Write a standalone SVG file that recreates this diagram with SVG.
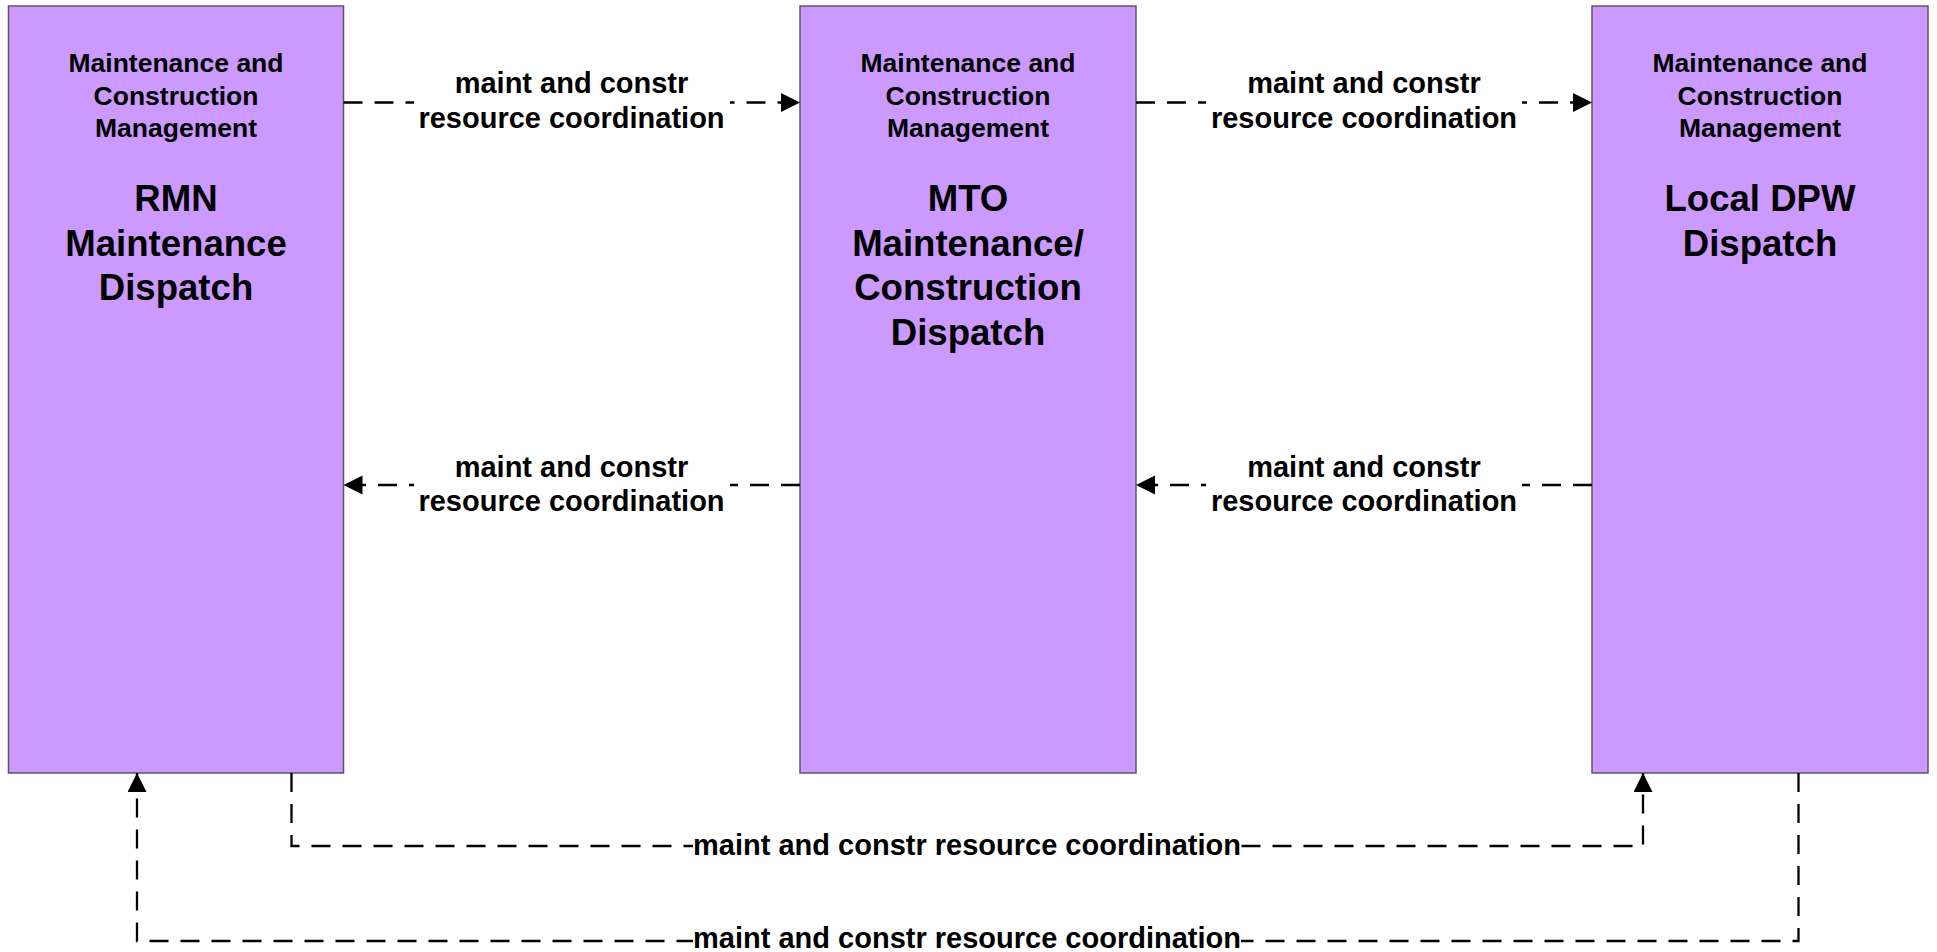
<svg xmlns="http://www.w3.org/2000/svg" width="1937" height="952" viewBox="0 0 1937 952">
<style>
.box{fill:#cc99ff;stroke:#5e5468;stroke-width:1.5}
.hdr{font-family:"Liberation Sans",Arial,sans-serif;font-weight:bold;font-size:26.5px;fill:#000;text-anchor:middle}
.ttl{font-family:"Liberation Sans",Arial,sans-serif;font-weight:bold;font-size:36.6px;fill:#000;text-anchor:middle}
.lbl{font-family:"Liberation Sans",Arial,sans-serif;font-weight:bold;font-size:29px;fill:#000;text-anchor:middle}
.conn{fill:none;stroke:#000;stroke-width:2.3;stroke-dasharray:19 12}
.bg{fill:#fff}
</style>
<defs>
<marker id="arr" markerUnits="userSpaceOnUse" markerWidth="20" markerHeight="20" refX="19" refY="9.5" orient="auto">
<path d="M0,0 L19,9.5 L0,19 Z" fill="#000"/>
</marker>
</defs>
<rect width="1937" height="952" fill="#fff"/>
<g id="node-rmn">
<rect class="box" x="8.5" y="6" width="335" height="767"/>
<text class="hdr" x="176" y="72"><tspan x="176">Maintenance and</tspan><tspan x="176" dy="32.5">Construction</tspan><tspan x="176" dy="32.5">Management</tspan></text>
<text class="ttl" x="176" y="211"><tspan x="176">RMN</tspan><tspan x="176" dy="44.5">Maintenance</tspan><tspan x="176" dy="44.5">Dispatch</tspan></text>
</g>
<g id="node-mto">
<rect class="box" x="800" y="6" width="336" height="767"/>
<text class="hdr" x="968" y="72"><tspan x="968">Maintenance and</tspan><tspan x="968" dy="32.5">Construction</tspan><tspan x="968" dy="32.5">Management</tspan></text>
<text class="ttl" x="968" y="211"><tspan x="968">MTO</tspan><tspan x="968" dy="44.5">Maintenance/</tspan><tspan x="968" dy="44.5">Construction</tspan><tspan x="968" dy="44.5">Dispatch</tspan></text>
</g>
<g id="node-dpw">
<rect class="box" x="1592" y="6" width="336" height="767"/>
<text class="hdr" x="1760" y="72"><tspan x="1760">Maintenance and</tspan><tspan x="1760" dy="32.5">Construction</tspan><tspan x="1760" dy="32.5">Management</tspan></text>
<text class="ttl" x="1760" y="211"><tspan x="1760">Local DPW</tspan><tspan x="1760" dy="44.5">Dispatch</tspan></text>
</g>
<g id="connectors">
<path class="conn" d="M343.5,102.5 H800" marker-end="url(#arr)"/>
<path class="conn" d="M1136,102.5 H1592" marker-end="url(#arr)"/>
<path class="conn" d="M800,485 H343.5" marker-end="url(#arr)"/>
<path class="conn" d="M1592,485 H1136" marker-end="url(#arr)"/>
<path class="conn" d="M291.5,773 V846 H1643 V773" marker-end="url(#arr)"/>
<path class="conn" d="M1798.5,773 V941 H137 V773" marker-end="url(#arr)"/>
<rect class="bg" x="414" y="68" width="316" height="64"/>
<text class="lbl" x="571.5" y="93.3"><tspan x="571.5">maint and constr</tspan><tspan x="571.5" dy="34.4">resource coordination</tspan></text>
<rect class="bg" x="1206" y="68" width="316" height="64"/>
<text class="lbl" x="1364" y="93.3"><tspan x="1364">maint and constr</tspan><tspan x="1364" dy="34.4">resource coordination</tspan></text>
<rect class="bg" x="414" y="451" width="316" height="64"/>
<text class="lbl" x="571.5" y="476.5"><tspan x="571.5">maint and constr</tspan><tspan x="571.5" dy="34.4">resource coordination</tspan></text>
<rect class="bg" x="1206" y="451" width="316" height="64"/>
<text class="lbl" x="1364" y="476.5"><tspan x="1364">maint and constr</tspan><tspan x="1364" dy="34.4">resource coordination</tspan></text>
<rect class="bg" x="693" y="832" width="548" height="28"/>
<text class="lbl" x="967" y="855">maint and constr resource coordination</text>
<rect class="bg" x="693" y="926" width="548" height="26"/>
<text class="lbl" x="967" y="948">maint and constr resource coordination</text>
</g>
</svg>
